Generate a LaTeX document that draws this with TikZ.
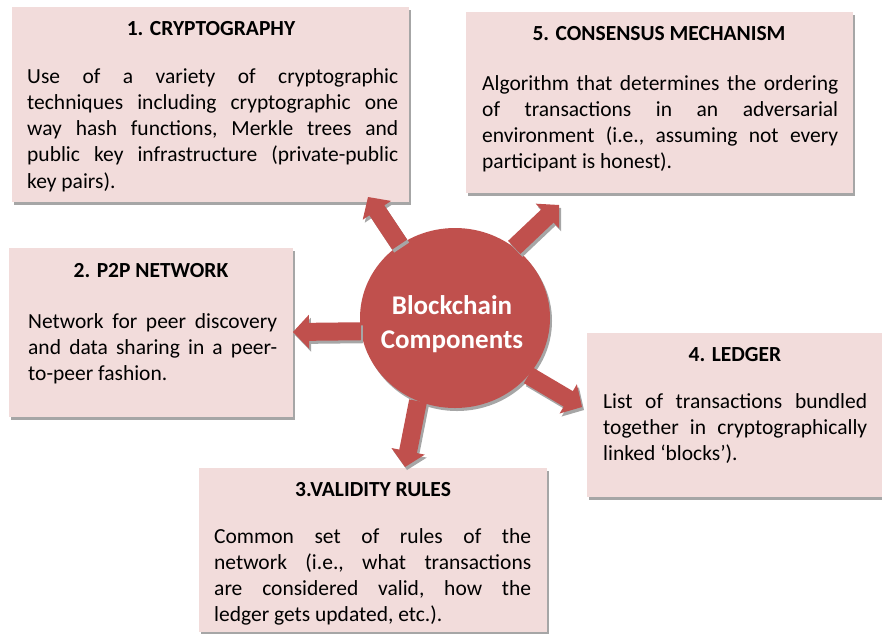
\documentclass[tikz,border=0pt]{standalone}
\usepackage{fontspec}
\setmainfont{Carlito}
\usetikzlibrary{calc,shapes.geometric,shadows}

\definecolor{boxpink}{HTML}{F2DCDB}
\definecolor{accentred}{HTML}{C0504D}
\definecolor{shadowgray}{HTML}{A6A6A6}

% arrow geometry: head length, half shaft width, half head width
\newcommand\headlen{16pt}
\newcommand\halfshaft{9pt}
\newcommand\halfhead{17pt}

% fat block arrow from #1 (start) to #2 (tip)
\newcommand\blockarrow[2]{%
  \path ($(#2)!\headlen!(#1)$) coordinate (#2-h);
  \fill[arrowbody]
    ($(#1)!\halfshaft!90:(#2)$) --
    ($(#2-h)!\halfshaft!-90:(#1)$) --
    ($(#2-h)!\halfhead!-90:(#1)$) --
    (#2) --
    ($(#2-h)!\halfhead!90:(#1)$) --
    ($(#2-h)!\halfshaft!90:(#1)$) --
    ($(#1)!\halfshaft!-90:(#2)$) -- cycle;
}

% paragraph settings for the justified descriptions
\newcommand\descsetup{\frenchspacing\hyphenpenalty=10000\relax
  \exhyphenpenalty=10000\relax\tolerance=9999\relax\emergencystretch=20pt\relax}

\tikzset{
  softshadow/.style={drop shadow={shadow xshift=2pt, shadow yshift=-3pt,
      fill=shadowgray, opacity=1}},
  panel/.style={rectangle, fill=boxpink, draw=none, inner sep=0pt,
      anchor=north west, softshadow},
  paneltitle/.style={anchor=base, inner sep=0pt,
      font=\fontsize{21.5}{26}\selectfont\bfseries},
  paneltext/.style={anchor=base west, inner sep=0pt, align=justify,
      font=\fontsize{21.5}{26.3}\selectfont,
      execute at begin node=\descsetup},
  hub/.style={ellipse, fill=accentred, draw=none, minimum width=190pt,
      minimum height=180pt, inner sep=0pt, softshadow},
  hubtext/.style={text=white, align=center, inner sep=0pt,
      font=\fontsize{27}{34}\selectfont\bfseries},
  arrowbody/.style={fill=accentred, softshadow},
}

\begin{document}
\begin{tikzpicture}[x=1pt, y=-1pt]
\useasboundingbox (0,0) rectangle (882,633);

% ---- panels ----
\node[panel, minimum width=397pt, minimum height=195pt] (p1) at (12,7) {};
\node[panel, minimum width=387pt, minimum height=181pt] (p5) at (466,12) {};
\node[panel, minimum width=284pt, minimum height=169pt] (p2) at (9,248) {};
\node[panel, minimum width=348pt, minimum height=164pt] (p3) at (199,468) {};
\node[panel, minimum width=296pt, minimum height=164pt] (p4) at (587,333) {};

% ---- titles ----
\node[paneltitle] (t1) at (211,35) {1. CRYPTOGRAPHY};
\node[paneltitle] (t5) at (659,40) {5. CONSENSUS MECHANISM};
\node[paneltitle] (t2) at (151,277) {2. P2P NETWORK};
\node[paneltitle] (t3) at (373,496) {3.VALIDITY RULES};
\node[paneltitle] (t4) at (735,361) {4. LEDGER};

% ---- descriptions ----
\node[paneltext, text width=371pt] (d1) at (27,83)
  {Use of a variety of cryptographic\linebreak
   techniques including cryptographic one\linebreak
   way hash functions, Merkle trees and\linebreak
   public key infrastructure (private-public\linebreak
   key pairs).};
\node[paneltext, text width=356pt] (d5) at (482,90)
  {Algorithm that determines the ordering\linebreak
   of transactions in an adversarial\linebreak
   environment (i.e., assuming not every\linebreak
   participant is honest).};
\node[paneltext, text width=249pt] (d2) at (28,328)
  {Network for peer discovery\linebreak
   and data sharing in a peer-\linebreak
   to-peer fashion.};
\node[paneltext, text width=317pt] (d3) at (214,543)
  {Common set of rules of the\linebreak
   network (i.e., what transactions\linebreak
   are considered valid, how the\linebreak
   ledger gets updated, etc.).};
\node[paneltext, text width=264pt] (d4) at (603,408)
  {List of transactions bundled\linebreak
   together in cryptographically\linebreak
   linked ‘blocks’).};

% ---- central hub ----
\node[hub] (c) at (455,318) {};
\node[hubtext] (ct) at (452,324) {Blockchain\\Components};

% ---- arrow tips ----
\coordinate (tip1) at (368,197);
\coordinate (tip5) at (559,205);
\coordinate (tip2) at (293,332);
\coordinate (tip4) at (582,407);
\coordinate (tip3) at (405,467);

% ---- arrows from the hub ----
\blockarrow{c.127}{tip1}
\blockarrow{c.50}{tip5}
\blockarrow{c.188}{tip2}
\blockarrow{c.-38}{tip4}
\blockarrow{c.-114}{tip3}
\end{tikzpicture}
\end{document}
